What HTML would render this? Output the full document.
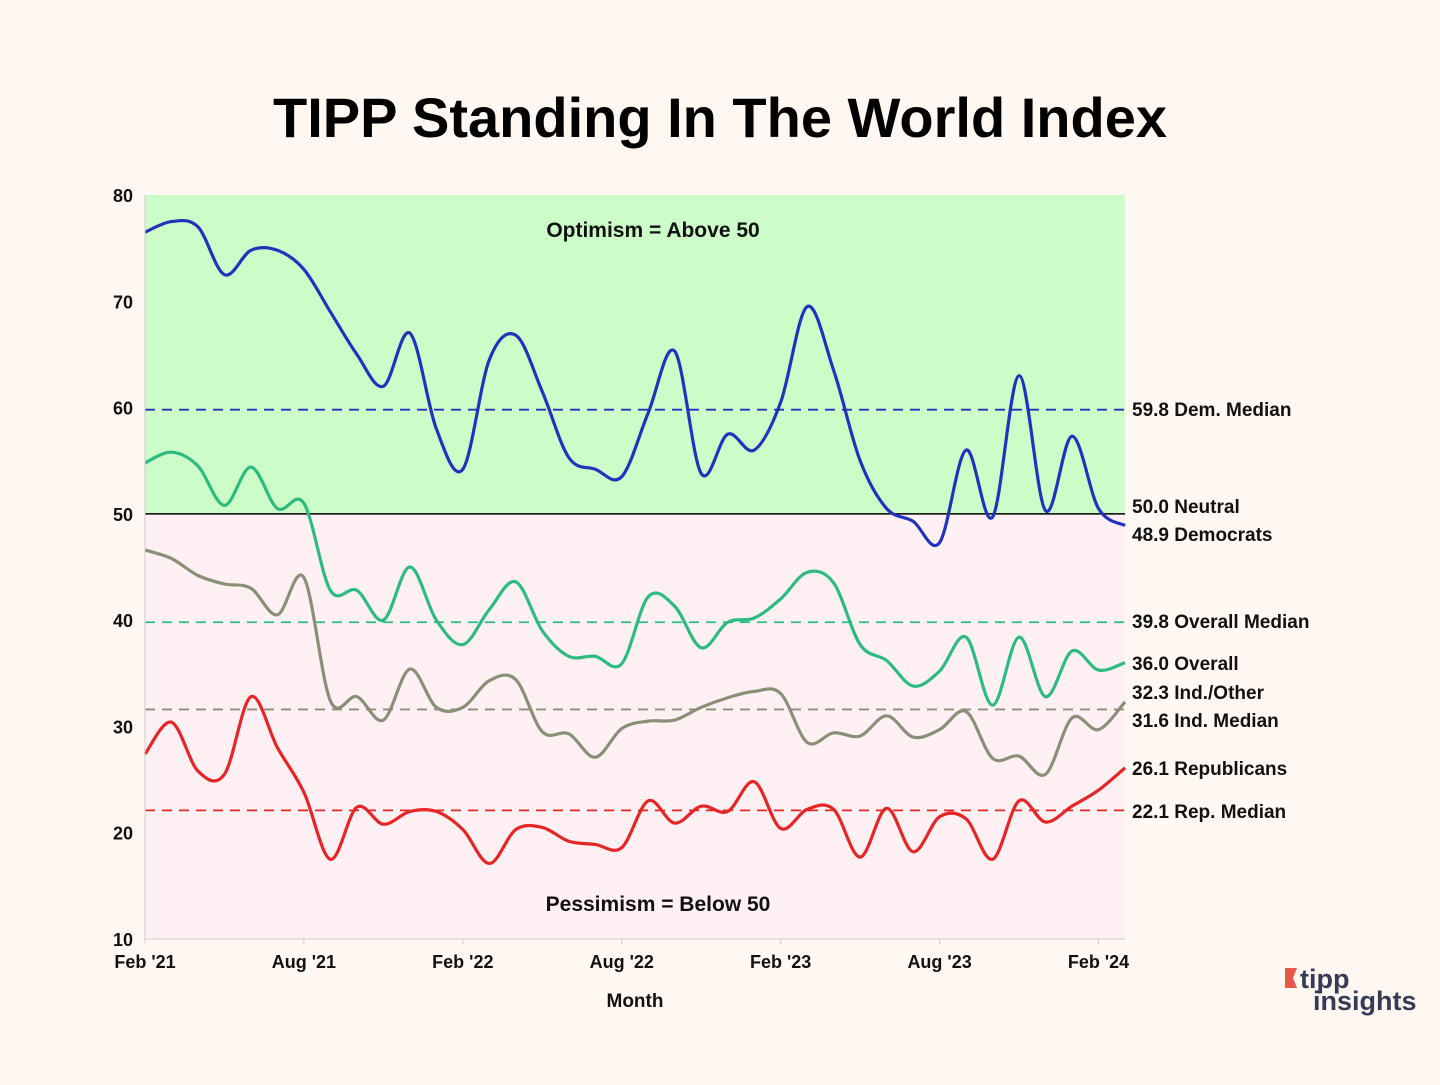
<!DOCTYPE html>
<html><head><meta charset="utf-8"><style>
body{margin:0;background:#fff8f2;}
svg text{font-family:"Liberation Sans",sans-serif;}
</style></head><body>
<svg width="1440" height="1080" id="c">
<rect width="1440" height="1080" fill="#fff8f2"/>
<text x="720" y="137" text-anchor="middle" font-size="56" font-weight="bold" fill="#000">TIPP Standing In The World Index</text>
<g id="plot"></g>
<text x="635" y="1007" text-anchor="middle" font-size="19" font-weight="bold" fill="#111">Month</text>
<g>
<polygon points="1285,968 1297,968 1293,978 1297,988 1285,988" fill="#e8584a"/>
<text x="1300" y="988" font-size="27" font-weight="bold" fill="#363c55">tipp</text>
<text x="1313" y="1010" font-size="27" font-weight="bold" fill="#363c55">insights</text>
</g>
</svg>
<script>
const months=["Feb '21","Aug '21","Feb '22","Aug '22","Feb '23","Aug '23","Feb '24"];
const tickIdx=[0,6,12,18,24,30,36];
const yTicks=[10,20,30,40,50,60,70,80];
const dem=[76.5,77.5,77,72.5,74.8,74.8,73,69,65,62,67,58,54.2,64.5,66.8,61.5,55.3,54.2,53.5,59.5,65.3,53.8,57.5,56,60.5,69.5,63.5,55,50.5,49.3,47.3,56,49.7,63,50.3,57.3,50.5,48.9];
const overall=[54.8,55.8,54.5,50.8,54.4,50.5,51,42.8,42.8,40,45,40,37.7,41,43.6,39,36.6,36.6,35.9,42.2,41.3,37.4,39.8,40.2,42,44.5,43.5,37.7,36.2,33.8,35.2,38.4,32,38.4,32.8,37.1,35.3,36.0];
const ind=[46.6,45.8,44.2,43.4,43,40.5,44,32.4,32.8,30.6,35.4,31.8,31.8,34.3,34.4,29.5,29.3,27.1,29.8,30.5,30.6,31.8,32.7,33.3,33.1,28.5,29.4,29.1,31,29,29.7,31.4,27.0,27.2,25.5,30.8,29.7,32.3];
const rep=[27.4,30.4,25.8,25.5,32.8,28,23.8,17.5,22.4,20.8,22,22,20.3,17.1,20.3,20.5,19.2,18.9,18.6,23,20.9,22.5,22,24.8,20.4,22.2,22.2,17.7,22.3,18.2,21.5,21.3,17.5,23,21,22.5,24,26.1];
const medians=[59.8,39.8,31.6,22.1];
const medianLabels=["59.8 Dem. Median","39.8 Overall Median","31.6 Ind. Median","22.1 Rep. Median"];
const medianLabelY=[409,621,720,811];
const endLabels=[["50.0 Neutral",506],["48.9 Democrats",534],["36.0 Overall",663],["32.3 Ind./Other",692],["26.1 Republicans",768]];
const X0=145,X1=1125,Y0=195,Y1=939;
const x=i=>X0+i*(X1-X0)/37;
const y=v=>Y1-(v-10)*(Y1-Y0)/70;
const NS="http://www.w3.org/2000/svg";
const g=document.getElementById('plot');
function mk(t,a,txt){const e=document.createElementNS(NS,t);for(const k in a)e.setAttribute(k,a[k]);if(txt)e.textContent=txt;g.appendChild(e);return e;}
let e;
e=mk('rect',{x:X0,y:Y0,width:X1-X0,height:y(50)-Y0,fill:'#ccfdc9'});


e=mk('rect',{x:X0,y:y(50),width:X1-X0,height:Y1-y(50),fill:'#fff0f4'});


e=mk('text',{x:653,y:237,'text-anchor':'middle','font-size':21,'font-weight':'bold',fill:'#111'},'Optimism = Above 50');


e=mk('text',{x:658,y:911,'text-anchor':'middle','font-size':21,'font-weight':'bold',fill:'#111'},'Pessimism = Below 50');


e=mk('line',{x1:X0,x2:X1,y1:y(50),y2:y(50),stroke:'#000','stroke-width':1.5});


const mcol=['#2233bb','#2dbb80','#8a9077','#e62626'];
medians.forEach((m,i)=>{
 e=mk('line',{x1:X0,x2:X1,y1:y(m),y2:y(m),stroke:mcol[i],'stroke-width':1.8,'stroke-dasharray':'10,7'});
 
 
 e=mk('text',{x:1132,y:medianLabelY[i]+7,'font-size':19,'font-weight':'bold',fill:'#111'},medianLabels[i]);
 
 
});
endLabels.forEach(l=>{
 e=mk('text',{x:1132,y:l[1]+7,'font-size':19,'font-weight':'bold',fill:'#111'},l[0]);
 
 
});
function path(d){
 const p=d.map((v,i)=>[x(i),y(v)]);let s=`M${p[0][0]},${p[0][1]}`;
 for(let i=0;i<p.length-1;i++){const a=p[Math.max(i-1,0)],b=p[i],c=p[i+1],n=p[Math.min(i+2,p.length-1)];
  s+=` C${b[0]+(c[0]-a[0])/6},${b[1]+(c[1]-a[1])/6} ${c[0]-(n[0]-b[0])/6},${c[1]-(n[1]-b[1])/6} ${c[0]},${c[1]}`;}
 return s;}
[[ind,'#8a9077','ind-other-line'],[rep,'#e62626','republicans-line'],[overall,'#2dbb80','overall-line'],[dem,'#2233bb','democrats-line']].forEach(s=>{
 e=mk('path',{d:path(s[0]),fill:'none',stroke:s[1],'stroke-width':3.2});
 
 
});
e=mk('line',{x1:X0,x2:X0,y1:Y0,y2:Y1,stroke:'#ccc','stroke-width':1});


e=mk('line',{x1:X0,x2:X1,y1:Y1,y2:Y1,stroke:'#ccc','stroke-width':1});


yTicks.forEach(t=>{
 e=mk('text',{x:133,y:y(t)+7,'text-anchor':'end','font-size':18,'font-weight':'bold',fill:'#111'},String(t));
 
 
});
months.forEach((m,i)=>{
 e=mk('text',{x:x(tickIdx[i]),y:968,'text-anchor':'middle','font-size':18,'font-weight':'bold',fill:'#111'},m);
 
 
 e=mk('line',{x1:x(tickIdx[i]),x2:x(tickIdx[i]),y1:Y1,y2:Y1+5,stroke:'#ccc'});
 
 
});
</script>
</body></html>
